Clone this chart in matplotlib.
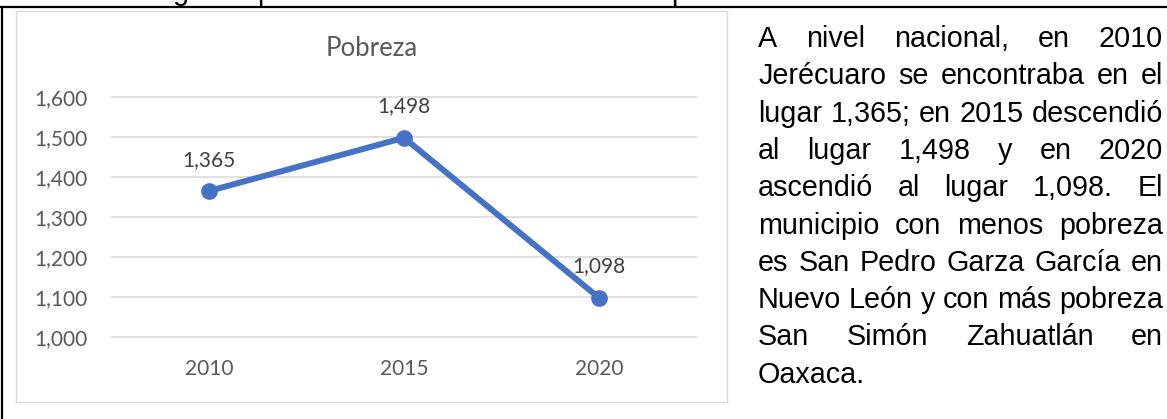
import matplotlib
matplotlib.use("Agg")
import matplotlib.pyplot as plt
from matplotlib.lines import Line2D
from matplotlib.patches import Rectangle

# datos de la grafica
years = ["2010", "2015", "2020"]
lugar = [1365, 1498, 1098]
y_ticks = [1000, 1100, 1200, 1300, 1400, 1500, 1600]

# texto de la columna derecha (una entrada por renglon)
lines = [
    "A nivel nacional, en 2010",
    "Jerécuaro se encontraba en el",
    "lugar 1,365; en 2015 descendió",
    "al lugar 1,498 y en 2020",
    "ascendió al lugar 1,098. El",
    "municipio con menos pobreza",
    "es San Pedro Garza García en",
    "Nuevo León y con más pobreza",
    "San Simón Zahuatlán en",
    "Oaxaca.",
]

W, H = 1167, 419
fig = plt.figure(figsize=(W / 100, H / 100), dpi=100)

def fx(px):
    return px / W

def fy(px):
    return 1 - px / H

chart_font = "Lato"
grey = "#595959"
body_size = 20.7

# marco de la tabla
fig.add_artist(Line2D([0, 1], [fy(7), fy(7)], color="black", lw=1.6, transform=fig.transFigure))
fig.add_artist(Line2D([fx(2), fx(2)], [fy(7), 0], color="black", lw=1.6, transform=fig.transFigure))
# marco de la grafica
fig.add_artist(Rectangle((fx(16), fy(402)), fx(727) - fx(16), fy(11) - fy(402),
                         fill=False, edgecolor="#D9D9D9", lw=1.0, transform=fig.transFigure))

# restos del renglon de arriba (solo se ven los trazos bajos)
for ch, px in [("g", 173), ("p", 257), ("p", 671)]:
    fig.text(fx(px), fy(-0.5), ch, fontsize=body_size, family="Liberation Sans", va="baseline")

ax = fig.add_axes([fx(111.5), fy(337), fx(585), 240 / H])
x = list(range(len(years)))
ax.plot(x, lugar, color="#4472C4", lw=4.3, marker="o", markersize=11, solid_capstyle="round")
for xi, v in zip(x, lugar):
    ax.annotate(f"{v:,}", (xi, v), xytext=(0, 22.5), textcoords="offset points",
                ha="center", va="center", fontsize=15, color="#404040", family=chart_font)

ax.set_xlim(-0.5, 2.5)
ax.set_ylim(1000, 1600)
ax.set_yticks(y_ticks)
ax.set_yticklabels([f"{t:,}" for t in y_ticks])
ax.set_xticks(x)
ax.set_xticklabels(years)
ax.tick_params(length=0, colors=grey, labelsize=15)
ax.tick_params(axis="y", pad=17)
ax.tick_params(axis="x", pad=16)
for lab in ax.get_xticklabels() + ax.get_yticklabels():
    lab.set_family(chart_font)
ax.grid(axis="y", color="#D9D9D9", lw=1.2)
ax.set_axisbelow(True)
for gl in ax.yaxis.get_gridlines():
    gl.set_clip_on(False)
for s in ax.spines.values():
    s.set_visible(False)
for ln in ax.lines:
    ln.set_clip_on(False)

fig.text(fx(371.5), fy(48), "Pobreza", ha="center", va="center", fontsize=18.5,
         color=grey, family=chart_font)

# texto justificado
left, right = 758, 1163
top, step = 39, 37.3
renderer = fig.canvas.get_renderer()
for i, line in enumerate(lines):
    yy = fy(top + i * step)
    words = line.split(" ")
    objs = [fig.text(0, yy, w, fontsize=body_size, family="Liberation Sans", va="center")
            for w in words]
    widths = [o.get_window_extent(renderer).width for o in objs]
    if i == len(lines) - 1 or len(words) == 1:
        gap = renderer.points_to_pixels(body_size) * 0.278
    else:
        gap = (right - left - sum(widths)) / (len(words) - 1)
    pos = left
    for o, w in zip(objs, widths):
        o.set_x(fx(pos))
        pos += w + gap

fig.savefig("out.png", dpi=100)
